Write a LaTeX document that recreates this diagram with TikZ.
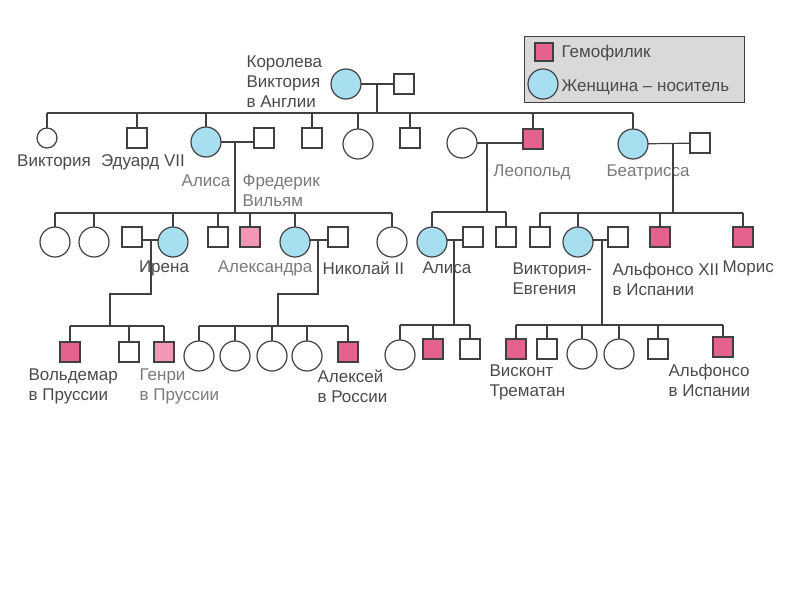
\documentclass[tikz,border=0pt]{standalone}
\usepackage{fontspec}
\setmainfont{Liberation Sans}
\usetikzlibrary{calc}
\definecolor{carrier}{HTML}{A8DFF0}
\definecolor{hemo}{HTML}{E5628C}
\definecolor{hemolight}{HTML}{F296B6}
\definecolor{ink}{HTML}{404040}
\definecolor{txt}{HTML}{4A4A4A}
\definecolor{txtlight}{HTML}{7A7A7A}
\definecolor{legendbg}{HTML}{D9D9D9}
\begin{document}
\begin{tikzpicture}[x=1pt,y=-1pt,line width=1.2pt,color=ink,
  male/.style={rectangle,draw=ink,minimum size=20pt,inner sep=0pt,outer sep=0pt,fill=white},
  female/.style={circle,draw=ink,minimum size=30pt,inner sep=0pt,outer sep=0pt,fill=white},
  affm/.style={male,fill=hemo},
  affl/.style={male,fill=hemolight},
  carr/.style={female,fill=carrier},
  lbl/.style={text=txt,font=\fontsize{17}{20}\selectfont,inner sep=0pt,align=left},
  lbll/.style={lbl,text=txtlight}]
\useasboundingbox (0,0) rectangle (800,600);

% ---------- legend ----------
\node[draw=ink,line width=1pt,fill=legendbg,minimum width=220pt,minimum height=66pt,inner sep=0pt] (legend) at (634,69) {};
\node[affm,minimum size=18pt] (lgh) at (544,52) {};
\node[carr] (lgc) at (543,84) {};
\node[lbl,anchor=west] (lght) at (561,53) {Гемофилик};
\node[lbl,anchor=west] (lgct) at (561,87) {Женщина – носитель};

% ---------- generation 0 ----------
\node[carr] (qv) at (346,84) {};
\node[male] (qh) at (404,84) {};
\node[lbl,anchor=west] (qvt) at (246,82) {Королева\\Виктория\\в Англии};
\draw (qv) -- (qh);
\coordinate (j0) at (377,84);
\coordinate (bar0) at (377,113);
\draw (j0) -- (bar0);

% ---------- generation 1 ----------
\node[female,minimum size=20pt] (c1) at (47,138) {};
\node[male] (c2) at (137,138) {};
\node[carr] (c3) at (206,142) {};
\node[male] (h3) at (264,138) {};
\node[male] (c4) at (312,138) {};
\node[female] (c5) at (358,144) {};
\node[male] (c6) at (410,138) {};
\node[female] (w7) at (462,143) {};
\node[affm] (c7) at (533,139) {};
\node[carr] (c8) at (633,144) {};
\node[male] (h8) at (700,143) {};

\draw (c1 |- bar0) -- (c8 |- bar0);
\foreach \n in {c1,c2,c3,c4,c5,c6,c7,c8} \draw (\n) -- (\n |- bar0);

\draw (c3.east) -- (c3.east -| h3.west);
\draw (w7.east) -- (w7.east -| c7.west);
\draw (c8) -- (h8);

\node[lbl] (c1t) at (54,162) {Виктория};
\node[lbl] (c2t) at (143,162) {Эдуард VII};
\node[lbll,anchor=east] (c3t) at (231,181) {Алиса};
\node[lbll,anchor=west] (h3t) at (242,191) {Фредерик\\Вильям};
\node[lbll] (c7t) at (532,172) {Леопольд};
\node[lbll] (c8t) at (648,172) {Беатрисса};

\coordinate (m3) at (235,142);
\coordinate (barA) at (235,213);
\draw (m3) -- (barA);
\coordinate (m7) at (487,143);
\coordinate (barL) at (487,212);
\draw (m7) -- (barL);
\coordinate (m8) at (673,144);
\coordinate (barB) at (673,213);
\draw (m8) -- (barB);

% ---------- generation 2 : Alice's children ----------
\node[female] (a1) at (55,242) {};
\node[female] (a2) at (94,242) {};
\node[male] (ih) at (132,237) {};
\node[carr] (a3) at (173,242) {};
\node[male] (a4) at (218,237) {};
\node[affl] (a5) at (250,237) {};
\node[carr] (a6) at (295,242) {};
\node[male] (nh) at (338,237) {};
\node[female] (a7) at (392,242) {};
\draw (a1 |- barA) -- (a7 |- barA);
\foreach \n in {a1,a2,a3,a4,a5,a6,a7} \draw (\n) -- (\n |- barA);
\draw (ih.east |- 0,240) -- (a3.west |- 0,240);
\draw (a6.east |- 0,240) -- (nh.west |- 0,240);

\node[lbl] (a3t) at (164,268) {Ирена};
\node[lbll,anchor=east] (a6t) at (313,268) {Александра};
\node[lbl,anchor=west] (nht) at (322,268) {Николай II};

% Leopold's children
\node[carr] (l1) at (432,242) {};
\node[male] (lh) at (473,237) {};
\node[male] (l2) at (506,237) {};
\draw (l1 |- barL) -- (l2 |- barL);
\foreach \n in {l1,l2} \draw (\n) -- (\n |- barL);
\draw (l1.east |- 0,240) -- (lh.west |- 0,240);
\node[lbl,anchor=west] (l1t) at (422,268) {Алиса};

% Beatrice's children
\node[male] (b1) at (540,237) {};
\node[carr] (b2) at (578,242) {};
\node[male] (bh) at (618,237) {};
\node[affm] (b3) at (660,237) {};
\node[affm] (b4) at (743,237) {};
\draw (b1 |- barB) -- (b4 |- barB);
\foreach \n in {b1,b2,b3,b4} \draw (\n) -- (\n |- barB);
\draw (b2.east |- 0,240) -- (bh.west |- 0,240);
\node[lbl,anchor=west] (b2t) at (512,279) {Виктория-\\Евгения};
\node[lbl,anchor=west] (bht) at (612,279) {Альфонсо XII\\в Испании};
\node[lbl,anchor=west] (b4t) at (722,268) {Морис};

% ---------- generation 3 ----------
% Irene's children
\coordinate (mi) at (151,240);
\coordinate (ki) at (110,294);
\coordinate (barI) at (110,326);
\draw (mi) |- (ki) -- (barI);
\node[affm] (i1) at (70,352) {};
\node[male] (i2) at (129,352) {};
\node[affl] (i3) at (164,352) {};
\draw (i1 |- barI) -- (i3 |- barI);
\foreach \n in {i1,i2,i3} \draw (\n) -- (\n |- barI);
\node[lbl,anchor=west] (i1t) at (28,386) {Вольдемар\\в Пруссии};
\node[lbll,anchor=west] (i3t) at (139,386) {Генри\\в Пруссии};

% Alexandra's children
\coordinate (mn) at (318,240);
\coordinate (kn) at (278,294);
\coordinate (barN) at (278,326);
\draw (mn) |- (kn) -- (barN);
\node[female] (n1) at (199,356) {};
\node[female] (n2) at (235,356) {};
\node[female] (n3) at (272,356) {};
\node[female] (n4) at (307,356) {};
\node[affm] (n5) at (348,352) {};
\draw (n1 |- barN) -- (n5 |- barN);
\foreach \n in {n1,n2,n3,n4,n5} \draw (\n) -- (\n |- barN);
\node[lbl,anchor=west] (n5t) at (317,386) {Алексей\\в России};

% Alice (Leopold's daughter) children
\coordinate (ml) at (454,240);
\coordinate (barM) at (454,325);
\draw (ml) -- (barM);
\node[female] (m1) at (400,355) {};
\node[affm] (m2) at (433,349) {};
\node[male] (m3b) at (470,349) {};
\draw (m1 |- barM) -- (m3b |- barM);
\foreach \n in {m1,m2,m3b} \draw (\n) -- (\n |- barM);

% Victoria-Eugenie's children
\coordinate (mv) at (602,240);
\coordinate (barV) at (602,325);
\draw (mv) -- (barV);
\node[affm] (v1) at (516,349) {};
\node[male] (v2) at (547,349) {};
\node[female] (v3) at (582,354) {};
\node[female] (v4) at (619,354) {};
\node[male] (v5) at (658,349) {};
\node[affm] (v6) at (723,347) {};
\draw (v1 |- barV) -- (v6 |- barV);
\foreach \n in {v1,v2,v3,v4,v5,v6} \draw (\n) -- (\n |- barV);
\node[lbl,anchor=west] (v1t) at (489,382) {Висконт\\Трематан};
\node[lbl,anchor=west] (v6t) at (668,380) {Альфонсо\\в Испании};
\end{tikzpicture}
\end{document}
